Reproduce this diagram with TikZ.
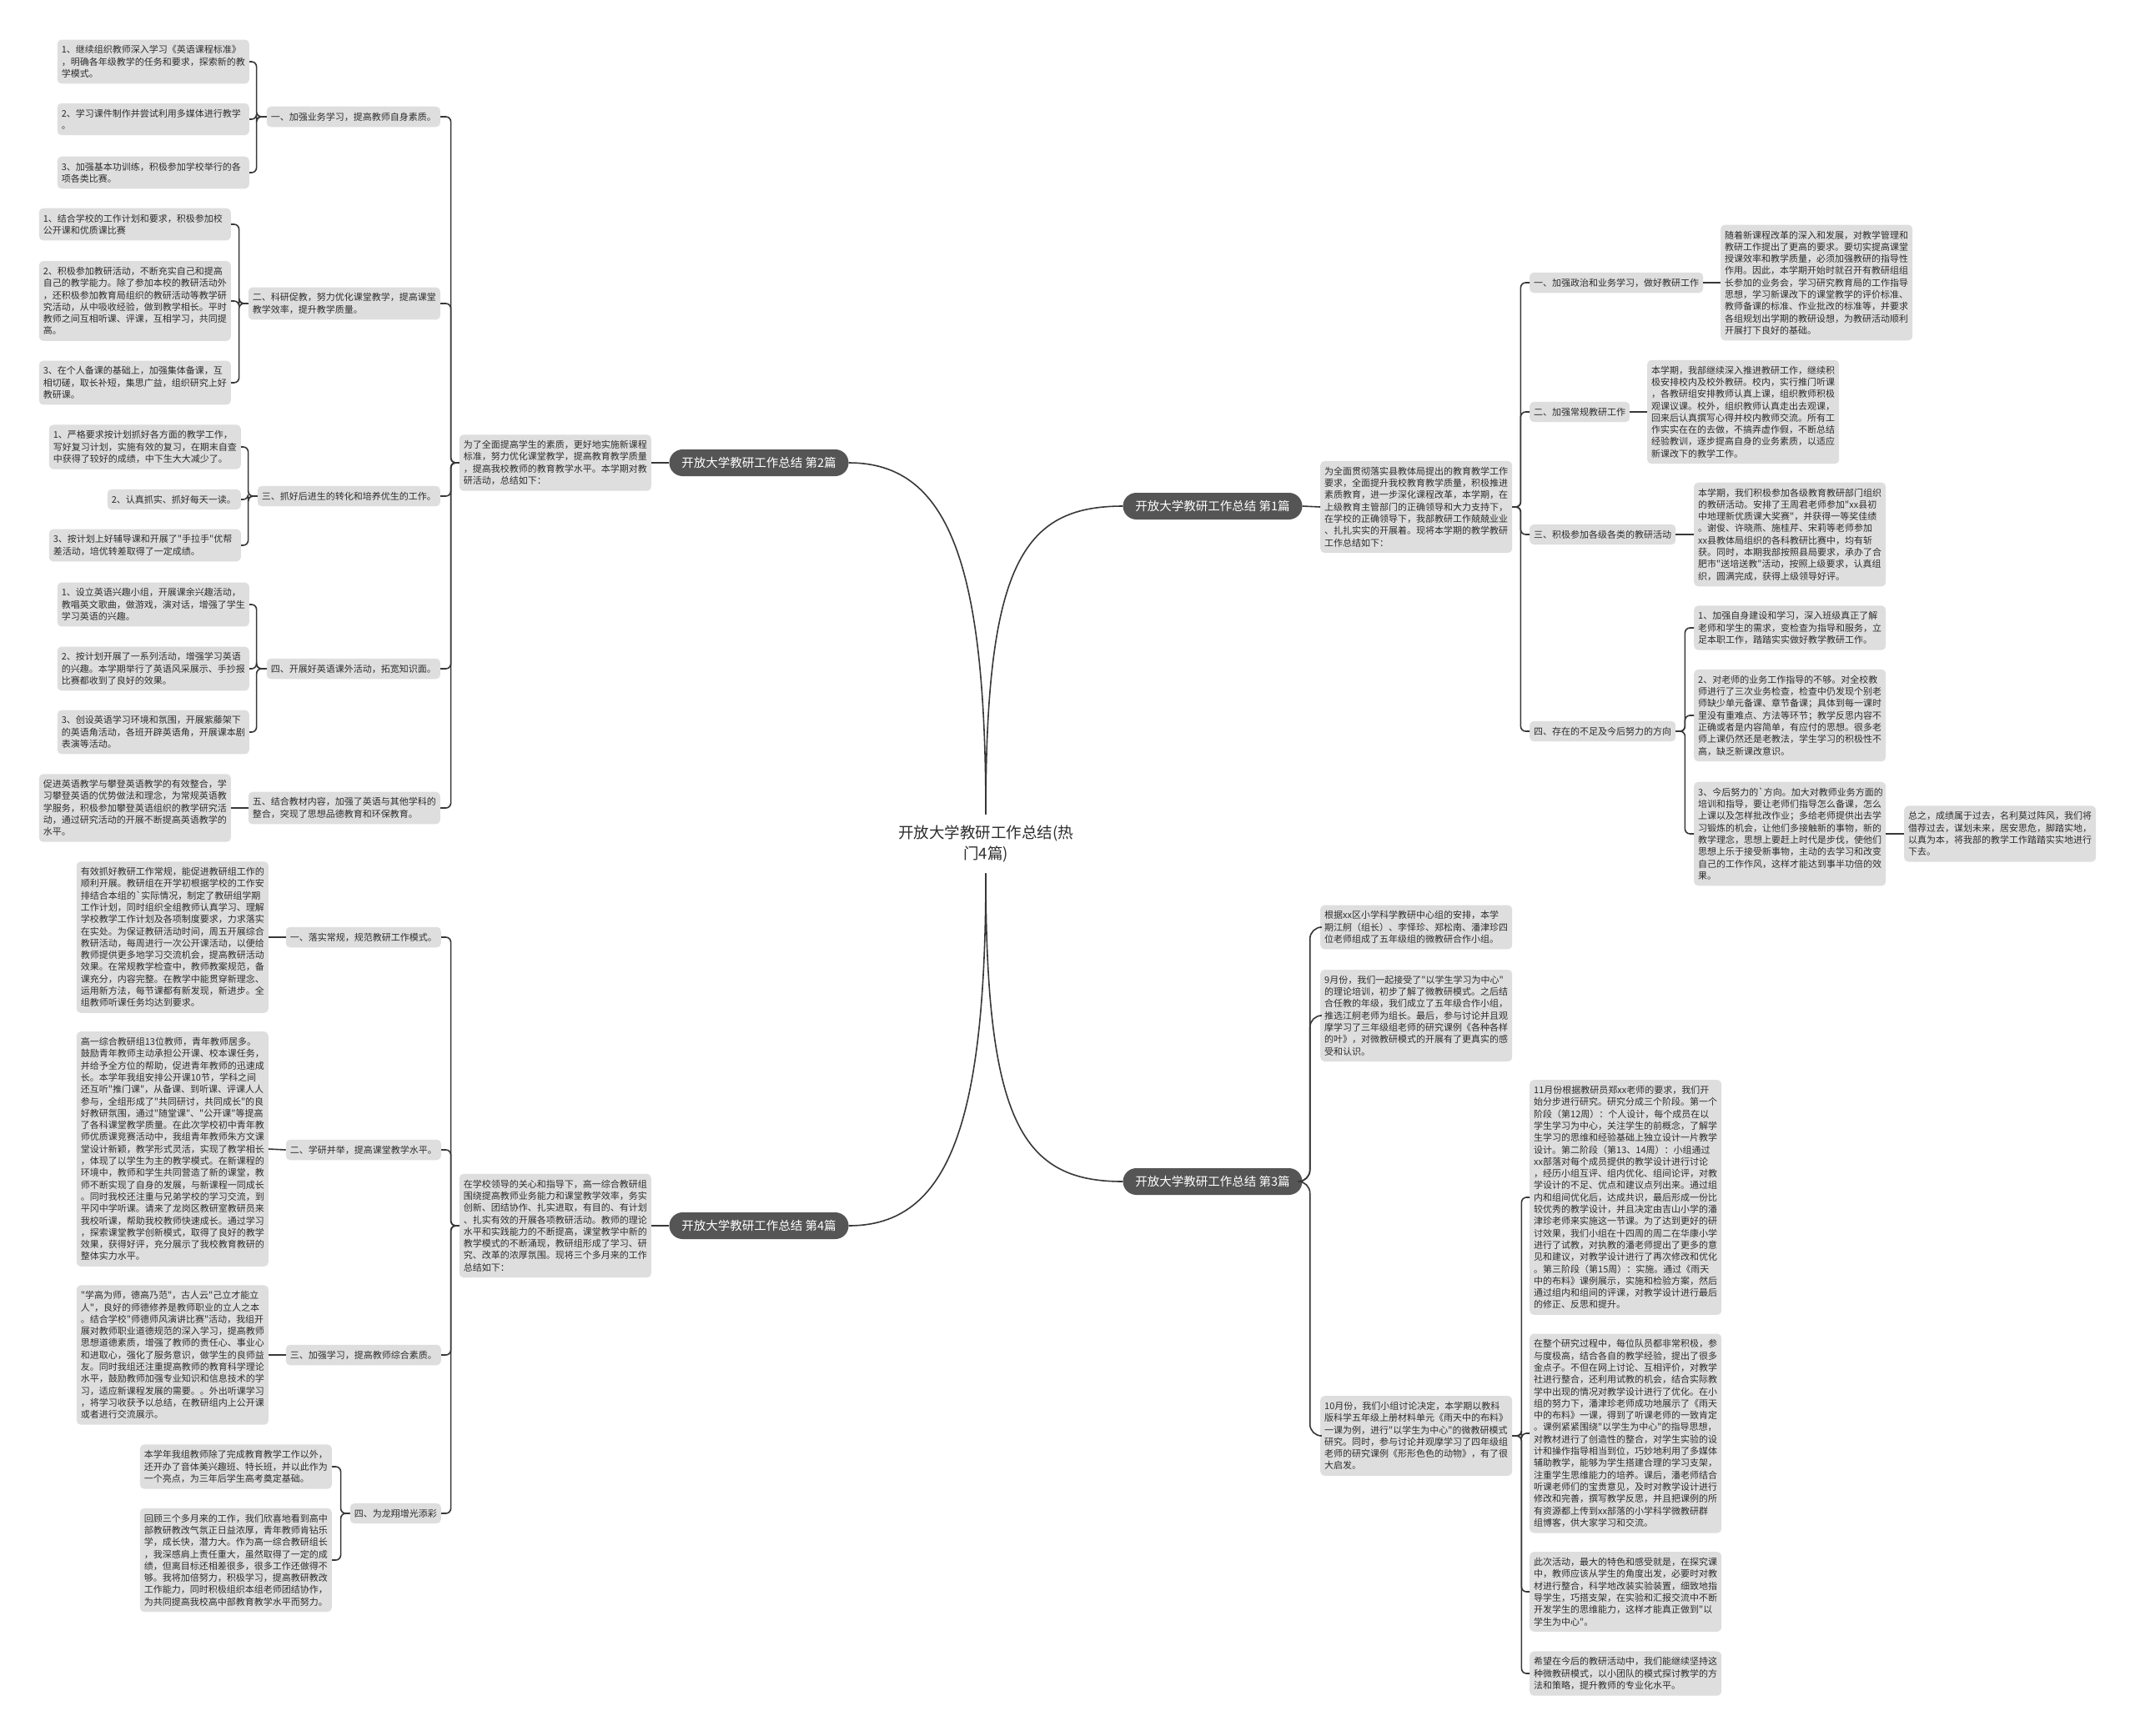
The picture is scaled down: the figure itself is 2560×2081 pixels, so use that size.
\documentclass[tikz,border=0pt]{standalone}
\usepackage{fontspec}
\setmainfont{Noto Sans CJK SC}[Ligatures=TeXOff]
\usepackage{tikz}
\usetikzlibrary{positioning}
\definecolor{mydark}{RGB}{45,45,45}
\definecolor{myline}{RGB}{55,55,55}
\definecolor{myfill}{RGB}{222,222,222}
\definecolor{mypill}{RGB}{85,85,85}
\tikzset{
  topic/.style={rectangle, fill=myfill, text=mydark, align=left,
    font=\fontsize{11}{14.3}\selectfont, inner xsep=5pt, inner ysep=7pt,
    rounded corners=5pt},
  leaf/.style={topic, text width=220pt},
  branch/.style={rectangle, fill=mypill, text=white, rounded corners=16pt,
    font=\fontsize{14.5}{17}\selectfont, minimum width=215pt,
    minimum height=32pt, inner sep=0pt},
  rootnode/.style={align=center, text=mydark, text width=230pt,
    font=\fontsize{18.5}{25}\selectfont, inner ysep=13pt},
  link/.style={draw=myline, line width=1.6pt, rounded corners=6pt}
}

\begin{document}
\begin{tikzpicture}[x=1pt, y=-1pt]
\useasboundingbox (0,0) rectangle (2560,2081);
\fill[white] (0,0) rectangle (2560,2081);
\node[rootnode] (root) at (1182,1012) {开放大学教研工作总结(热\\门4篇)};
\node[branch] (p2) at (910,555) {开放大学教研工作总结 第2篇};
\node[branch] (p4) at (910,1470) {开放大学教研工作总结 第4篇};
\node[branch] (p1) at (1454,607) {开放大学教研工作总结 第1篇};
\node[branch] (p3) at (1454,1417) {开放大学教研工作总结 第3篇};
\draw[link] (root.north) .. controls +(0,-300) and +(120,0) .. (p2.east);
\draw[link] (root.south) .. controls +(0,300) and +(120,0) .. (p4.east);
\draw[link] (root.north) .. controls +(0,-300) and +(-120,0) .. (p1.west);
\draw[link] (root.south) .. controls +(0,300) and +(-120,0) .. (p3.west);

% 第2篇
\node[leaf, anchor=east] (i2) at (781,555) {为了全面提高学生的素质，更好地实施新课程\\标准，努力优化课堂教学，提高教育教学质量\\，提高我校教师的教育教学水平。本学期对教\\研活动，总结如下：};
\draw[link] (p2.west) -- (i2.east);
\node[topic, anchor=east] (s21) at (528,140) {一、加强业务学习，提高教师自身素质。};
\node[topic, anchor=east] (s22) at (528,364) {二、科研促教，努力优化课堂教学，提高课堂\\教学效率，提升教学质量。};
\node[topic, anchor=east] (s23) at (528,595) {三、抓好后进生的转化和培养优生的工作。};
\node[topic, anchor=east] (s24) at (528,802) {四、开展好英语课外活动，拓宽知识面。};
\node[topic, anchor=east] (s25) at (528,969) {五、结合教材内容，加强了英语与其他学科的\\整合，突现了思想品德教育和环保教育。};
\foreach \c in {s21,s22,s23,s24,s25}
  \draw[link] (i2.west) -- ++(-10,0) |- (\c.east);

\node[leaf, anchor=east] (a1) at (299,74) {1、继续组织教师深入学习《英语课程标准》\\，明确各年级教学的任务和要求，探索新的教\\学模式。};
\node[leaf, anchor=east] (a2) at (299,143) {2、学习课件制作并尝试利用多媒体进行教学\\。};
\node[leaf, anchor=east] (a3) at (299,207) {3、加强基本功训练，积极参加学校举行的各\\项各类比赛。};
\foreach \c in {a1,a2,a3}
  \draw[link] (s21.west) -- ++(-12,0) |- (\c.east);

\node[leaf, anchor=east] (b1) at (277,269) {1、结合学校的工作计划和要求，积极参加校\\公开课和优质课比赛};
\node[leaf, anchor=east] (b2) at (277,361) {2、积极参加教研活动，不断充实自己和提高\\自己的教学能力。除了参加本校的教研活动外\\，还积极参加教育局组织的教研活动等教学研\\究活动，从中吸收经验，做到教学相长。平时\\教师之间互相听课、评课，互相学习，共同提\\高。};
\node[leaf, anchor=east] (b3) at (277,459) {3、在个人备课的基础上，加强集体备课，互\\相切磋，取长补短，集思广益，组织研究上好\\教研课。};
\foreach \c in {b1,b2,b3}
  \draw[link] (s22.west) -- ++(-11,0) |- (\c.east);

\node[leaf, anchor=east] (c1) at (289,536) {1、严格要求按计划抓好各方面的教学工作，\\写好复习计划，实施有效的复习，在期末自查\\中获得了较好的成绩，中下生大大减少了。};
\node[leaf, anchor=east, text width=150pt] (c2) at (289,599) {2、认真抓实、抓好每天一读。};
\node[leaf, anchor=east] (c3) at (289,654) {3、按计划上好辅导课和开展了"手拉手"优帮\\差活动，培优转差取得了一定成绩。};
\foreach \c in {c1,c2,c3}
  \draw[link] (s23.west) -- ++(-11,0) |- (\c.east);

\node[leaf, anchor=east] (d1) at (299,725) {1、设立英语兴趣小组，开展课余兴趣活动，\\教唱英文歌曲，做游戏，演对话，增强了学生\\学习英语的兴趣。};
\node[leaf, anchor=east] (d2) at (299,802) {2、按计划开展了一系列活动，增强学习英语\\的兴趣。本学期举行了英语风采展示、手抄报\\比赛都收到了良好的效果。};
\node[leaf, anchor=east] (d3) at (299,878) {3、创设英语学习环境和氛围，开展紫藤架下\\的英语角活动，各班开辟英语角，开展课本剧\\表演等活动。};
\foreach \c in {d1,d2,d3}
  \draw[link] (s24.west) -- ++(-12,0) |- (\c.east);

\node[leaf, anchor=east] (e1) at (277,969) {促进英语教学与攀登英语教学的有效整合，学\\习攀登英语的优势做法和理念，为常规英语教\\学服务，积极参加攀登英语组织的教学研究活\\动，通过研究活动的开展不断提高英语教学的\\水平。};
\draw[link] (s25.west) -- (e1.east);

% 第4篇
\node[leaf, anchor=east] (i4) at (781,1470) {在学校领导的关心和指导下，高一综合教研组\\围绕提高教师业务能力和课堂教学效率，务实\\创新、团结协作、扎实进取，有目的、有计划\\、扎实有效的开展各项教研活动。教师的理论\\水平和实践能力的不断提高，课堂教学中新的\\教学模式的不断涌现，教研组形成了学习、研\\究、改革的浓厚氛围。现将三个多月来的工作\\总结如下：};
\draw[link] (p4.west) -- (i4.east);
\node[topic, anchor=east] (t1) at (529,1124) {一、落实常规，规范教研工作模式。};
\node[topic, anchor=east] (t2) at (529,1379) {二、学研并举，提高课堂教学水平。};
\node[topic, anchor=east] (t3) at (529,1625) {三、加强学习，提高教师综合素质。};
\node[topic, anchor=east] (t4) at (529,1815) {四、为龙翔增光添彩};
\foreach \c in {t1,t2,t3,t4}
  \draw[link] (i4.west) -- ++(-10,0) |- (\c.east);

\node[leaf, anchor=east] (f1) at (322,1124) {有效抓好教研工作常规，能促进教研组工作的\\顺利开展。教研组在开学初根据学校的工作安\\排结合本组的\textasciigrave 实际情况，制定了教研组学期\\工作计划，同时组织全组教师认真学习、理解\\学校教学工作计划及各项制度要求，力求落实\\在实处。为保证教研活动时间，周五开展综合\\教研活动，每周进行一次公开课活动，以便给\\教师提供更多地学习交流机会，提高教研活动\\效果。在常规教学检查中，教师教案规范，备\\课充分，内容完整。在教学中能贯穿新理念、\\运用新方法，每节课都有新发现，新进步。全\\组教师听课任务均达到要求。};
\draw[link] (t1.west) -- (f1.east);
\node[leaf, anchor=east] (g1) at (322,1378) {高一综合教研组13位教师，青年教师居多。\\鼓励青年教师主动承担公开课、校本课任务，\\并给予全方位的帮助，促进青年教师的迅速成\\长。本学年我组安排公开课10节，学科之间\\还互听"推门课"，从备课、到听课、评课人人\\参与，全组形成了"共同研讨，共同成长"的良\\好教研氛围，通过"随堂课"、"公开课"等提高\\了各科课堂教学质量。在此次学校初中青年教\\师优质课竞赛活动中，我组青年教师朱方文课\\堂设计新颖，教学形式灵活，实现了教学相长\\，体现了以学生为主的教学模式。在新课程的\\环境中，教师和学生共同营造了新的课堂，教\\师不断实现了自身的发展，与新课程一同成长\\。同时我校还注重与兄弟学校的学习交流，到\\平冈中学听课。请来了龙岗区教研室教研员来\\我校听课，帮助我校教师快速成长。通过学习\\，探索课堂教学创新模式，取得了良好的教学\\效果，获得好评，充分展示了我校教育教研的\\整体实力水平。};
\draw[link] (t2.west) -- (g1.east);
\node[leaf, anchor=east] (h1) at (322,1625) {"学高为师，德高乃范"，古人云"己立才能立\\人"，良好的师德修养是教师职业的立人之本\\。结合学校"师德师风演讲比赛"活动，我组开\\展对教师职业道德规范的深入学习，提高教师\\思想道德素质，增强了教师的责任心、事业心\\和进取心，强化了服务意识，做学生的良师益\\友。同时我组还注重提高教师的教育科学理论\\水平，鼓励教师加强专业知识和信息技术的学\\习，适应新课程发展的需要。。外出听课学习\\，将学习收获予以总结，在教研组内上公开课\\或者进行交流展示。};
\draw[link] (t3.west) -- (h1.east);
\node[leaf, anchor=east] (k1) at (398,1759) {本学年我组教师除了完成教育教学工作以外，\\还开办了音体美兴趣班、特长班，并以此作为\\一个亮点，为三年后学生高考奠定基础。};
\node[leaf, anchor=east] (k2) at (398,1871) {回顾三个多月来的工作，我们欣喜地看到高中\\部教研教改气氛正日益浓厚，青年教师肯钻乐\\学，成长快，潜力大。作为高一综合教研组长\\，我深感肩上责任重大，虽然取得了一定的成\\绩，但离目标还相差很多，很多工作还做得不\\够。我将加倍努力，积极学习，提高教研教改\\工作能力，同时积极组织本组老师团结协作，\\为共同提高我校高中部教育教学水平而努力。};
\foreach \c in {k1,k2}
  \draw[link] (t4.west) -- ++(-11,0) |- (\c.east);

% 第1篇
\node[leaf, anchor=west] (i1) at (1583,608) {为全面贯彻落实县教体局提出的教育教学工作\\要求，全面提升我校教育教学质量，积极推进\\素质教育，进一步深化课程改革，本学期，在\\上级教育主管部门的正确领导和大力支持下，\\在学校的正确领导下，我部教研工作兢兢业业\\、扎扎实实的开展着。现将本学期的教学教研\\工作总结如下：};
\draw[link] (p1.east) -- (i1.west);
\node[topic, anchor=west] (r1) at (1834,339) {一、加强政治和业务学习，做好教研工作};
\node[topic, anchor=west] (r2) at (1834,494) {二、加强常规教研工作};
\node[topic, anchor=west] (r3) at (1834,641) {三、积极参加各级各类的教研活动};
\node[topic, anchor=west] (r4) at (1834,877) {四、存在的不足及今后努力的方向};
\foreach \c in {r1,r2,r3,r4}
  \draw[link] (i1.east) -- ++(10,0) |- (\c.west);

\node[leaf, anchor=west] (m1) at (2063,339) {随着新课程改革的深入和发展，对教学管理和\\教研工作提出了更高的要求。要切实提高课堂\\授课效率和教学质量，必须加强教研的指导性\\作用。因此，本学期开始时就召开有教研组组\\长参加的业务会，学习研究教育局的工作指导\\思想，学习新课改下的课堂教学的评价标准、\\教师备课的标准、作业批改的标准等，并要求\\各组规划出学期的教研设想，为教研活动顺利\\开展打下良好的基础。};
\draw[link] (r1.east) -- (m1.west);
\node[leaf, anchor=west] (n1) at (1975,494) {本学期，我部继续深入推进教研工作，继续积\\极安排校内及校外教研。校内，实行推门听课\\，各教研组安排教师认真上课，组织教师积极\\观课议课。校外，组织教师认真走出去观课，\\回来后认真撰写心得并校内教师交流。所有工\\作实实在在的去做，不搞弄虚作假，不断总结\\经验教训，逐步提高自身的业务素质，以适应\\新课改下的教学工作。};
\draw[link] (r2.east) -- (n1.west);
\node[leaf, anchor=west] (o1) at (2031,641) {本学期，我们积极参加各级教育教研部门组织\\的教研活动。安排了王周君老师参加"xx县初\\中地理新优质课大奖赛"，并获得一等奖佳绩\\。谢俊、许晓燕、施桂芹、宋莉等老师参加\\xx县教体局组织的各科教研比赛中，均有斩\\获。同时，本期我部按照县局要求，承办了合\\肥市"送培送教"活动，按照上级要求，认真组\\织，圆满完成，获得上级领导好评。};
\draw[link] (r3.east) -- (o1.west);
\node[leaf, anchor=west] (q1) at (2031,753) {1、加强自身建设和学习，深入班级真正了解\\老师和学生的需求，变检查为指导和服务，立\\足本职工作，踏踏实实做好教学教研工作。};
\node[leaf, anchor=west] (q2) at (2031,858) {2、对老师的业务工作指导的不够。对全校教\\师进行了三次业务检查，检查中仍发现个别老\\师缺少单元备课、章节备课；具体到每一课时\\里没有重难点、方法等环节；教学反思内容不\\正确或者是内容简单，有应付的思想。很多老\\师上课仍然还是老教法，学生学习的积极性不\\高，缺乏新课改意识。};
\node[leaf, anchor=west] (q3) at (2031,1000) {3、今后努力的\textasciigrave 方向。加大对教师业务方面的\\培训和指导，要让老师们指导怎么备课，怎么\\上课以及怎样批改作业；多给老师提供出去学\\习锻炼的机会，让他们多接触新的事物，新的\\教学理念，思想上要赶上时代是步伐，使他们\\思想上乐于接受新事物，主动的去学习和改变\\自己的工作作风，这样才能达到事半功倍的效\\果。};
\foreach \c in {q1,q2,q3}
  \draw[link] (r4.east) -- ++(11,0) |- (\c.west);
\node[leaf, anchor=west] (z1) at (2283,1000) {总之，成绩属于过去，名利莫过阵风，我们将\\借荐过去，谋划未来，居安思危，脚踏实地，\\以真为本，将我部的教学工作踏踏实实地进行\\下去。};
\draw[link] (q3.east) -- (z1.west);

% 第3篇
\node[leaf, anchor=west] (u1) at (1583,1112) {根据xx区小学科学教研中心组的安排，本学\\期江舸（组长）、李怿珍、郑松南、潘津珍四\\位老师组成了五年级组的微教研合作小组。};
\node[leaf, anchor=west] (u2) at (1583,1218) {9月份，我们一起接受了"以学生学习为中心"\\的理论培训，初步了解了微教研模式。之后结\\合任教的年级，我们成立了五年级合作小组，\\推选江舸老师为组长。最后，参与讨论并且观\\摩学习了三年级组老师的研究课例《各种各样\\的叶》，对微教研模式的开展有了更真实的感\\受和认识。};
\node[leaf, anchor=west] (u3) at (1583,1722) {10月份，我们小组讨论决定，本学期以教科\\版科学五年级上册材料单元《雨天中的布料》\\一课为例，进行"以学生为中心"的微教研模式\\研究。同时，参与讨论并观摩学习了四年级组\\老师的研究课例《形形色色的动物》，有了很\\大启发。};
\foreach \c in {u1,u2,u3}
  \draw[link, rounded corners=14pt] (p3.east) -- ++(9,0) |- (\c.west);

\node[leaf, anchor=west] (v1) at (1834,1436) {11月份根据教研员郑xx老师的要求，我们开\\始分步进行研究。研究分成三个阶段。第一个\\阶段（第12周）：个人设计，每个成员在以\\学生学习为中心，关注学生的前概念，了解学\\生学习的思维和经验基础上独立设计一片教学\\设计。第二阶段（第13、14周）：小组通过\\xx部落对每个成员提供的教学设计进行讨论\\，经历小组互评、组内优化、组间论评，对教\\学设计的不足、优点和建议点列出来。通过组\\内和组间优化后，达成共识，最后形成一份比\\较优秀的教学设计，并且决定由吉山小学的潘\\津珍老师来实施这一节课。为了达到更好的研\\讨效果，我们小组在十四周的周二在华康小学\\进行了试教，对执教的潘老师提出了更多的意\\见和建议，对教学设计进行了再次修改和优化\\。第三阶段（第15周）：实施。通过《雨天\\中的布料》课例展示，实施和检验方案，然后\\通过组内和组间的评课，对教学设计进行最后\\的修正、反思和提升。};
\node[leaf, anchor=west] (v2) at (1834,1719) {在整个研究过程中，每位队员都非常积极，参\\与度极高，结合各自的教学经验，提出了很多\\金点子。不但在网上讨论、互相评价，对教学\\社进行整合，还利用试教的机会，结合实际教\\学中出现的情况对教学设计进行了优化。在小\\组的努力下，潘津珍老师成功地展示了《雨天\\中的布料》一课，得到了听课老师的一致肯定\\。课例紧紧围绕"以学生为中心"的指导思想，\\对教材进行了创造性的整合，对学生实验的设\\计和操作指导相当到位，巧妙地利用了多媒体\\辅助教学，能够为学生搭建合理的学习支架，\\注重学生思维能力的培养。课后，潘老师结合\\听课老师们的宝贵意见，及时对教学设计进行\\修改和完善，撰写教学反思，并且把课例的所\\有资源都上传到xx部落的小学科学微教研群\\组博客，供大家学习和交流。};
\node[leaf, anchor=west] (v3) at (1834,1909) {此次活动，最大的特色和感受就是，在探究课\\中，教师应该从学生的角度出发，必要时对教\\材进行整合，科学地改装实验装置，细致地指\\导学生，巧搭支架，在实验和汇报交流中不断\\开发学生的思维能力，这样才能真正做到"以\\学生为中心"。};
\node[leaf, anchor=west] (v4) at (1834,2007) {希望在今后的教研活动中，我们能继续坚持这\\种微教研模式，以小团队的模式探讨教学的方\\法和策略，提升教师的专业化水平。};
\foreach \c in {v1,v2,v3,v4}
  \draw[link] (u3.east) -- ++(11,0) |- (\c.west);
\end{tikzpicture}
\end{document}
